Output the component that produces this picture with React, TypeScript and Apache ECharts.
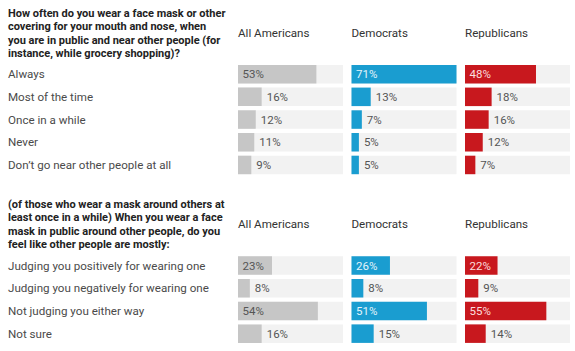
import React, { useEffect, useRef } from "react";
import * as echarts from "echarts";

const question1 =
  "How often do you wear a face mask or other\ncovering for your mouth and nose, when\nyou are in public and near other people (for\ninstance, while grocery shopping)?";
const question2 =
  "(of those who wear a mask around others at\nleast once in a while) When you wear a face\nmask in public around other people, do you\nfeel like other people are mostly:";

const groups = ["All Americans", "Democrats", "Republicans"];
const groupColors = ["#c6c6c6", "#1a9dd0", "#c8181e"];
const insideLabelColors = ["#555555", "#e4f4fb", "#fbdede"];

const categories1 = [
  "Always",
  "Most of the time",
  "Once in a while",
  "Never",
  "Don\u2019t go near other people at all",
];
const all1 = [53, 16, 12, 11, 9];
const dem1 = [71, 13, 7, 5, 5];
const rep1 = [48, 18, 16, 12, 7];

const categories2 = [
  "Judging you positively for wearing one",
  "Judging you negatively for wearing one",
  "Not judging you either way",
  "Not sure",
];
const all2 = [23, 8, 54, 16];
const dem2 = [26, 8, 51, 15];
const rep2 = [22, 9, 55, 14];

const FONT = "Roboto, 'Noto Sans', sans-serif";

export default function App() {
  const ref = useRef<HTMLDivElement>(null);
  useEffect(() => {
    if (!ref.current) return;
    const chart = echarts.init(ref.current, undefined, { renderer: "svg" });

    const sections = [
      { cats: categories1, vals: [all1, dem1, rep1], top: 62.8, pitch: 22.7 },
      { cats: categories2, vals: [all2, dem2, rep2], top: 254.2, pitch: 22.7 },
    ];
    const colLefts = [238, 351.5, 465];
    const colWidth = 105;
    const maxVal = 71;

    const grid: any[] = [];
    const xAxis: any[] = [];
    const yAxis: any[] = [];
    const series: any[] = [];

    sections.forEach((sec, s) => {
      groups.forEach((g, c) => {
        const idx = grid.length;
        grid.push({
          left: colLefts[c],
          top: sec.top,
          width: colWidth,
          height: sec.pitch * sec.cats.length,
          containLabel: false,
        });
        xAxis.push({
          type: "value",
          gridIndex: idx,
          min: 0,
          max: maxVal,
          show: false,
        });
        yAxis.push({
          type: "category",
          gridIndex: idx,
          inverse: true,
          data: sec.cats,
          axisLine: { show: false },
          axisTick: { show: false },
          splitLine: { show: false },
          axisLabel: {
            show: c === 0,
            align: "left",
            margin: colLefts[0] - 8,
            color: "#4a4a4a",
            fontSize: 11.6,
            fontFamily: FONT,
          },
        });
        series.push({
          type: "bar",
          xAxisIndex: idx,
          yAxisIndex: idx,
          barWidth: 18.5,
          showBackground: true,
          backgroundStyle: { color: "#f2f2f2" },
          itemStyle: { color: groupColors[c] },
          data: sec.vals[c].map((v) => ({
            value: v,
            label:
              v >= 20
                ? {
                    show: true,
                    position: "insideLeft",
                    distance: 4.5,
                    color: insideLabelColors[c],
                    fontSize: 11.5,
                    fontFamily: FONT,
                    formatter: "{c}%",
                  }
                : {
                    show: true,
                    position: "right",
                    distance: 5,
                    color: "#555555",
                    fontSize: 11.5,
                    fontFamily: FONT,
                    formatter: "{c}%",
                  },
          })),
        });
      });
    });

    const titleStyle = {
      fontSize: 11,
      fontWeight: "bold",
      color: "#222222",
      lineHeight: 13.2,
      fontFamily: FONT,
    };
    const titles: any[] = [
      { text: question1, left: 8, top: 7, padding: 0, textStyle: titleStyle },
      { text: question2, left: 8, top: 198, padding: 0, textStyle: titleStyle },
    ];
    [27, 218].forEach((t) => {
      groups.forEach((g, c) => {
        titles.push({
          text: g,
          left: colLefts[c],
          top: t,
          padding: 0,
          textStyle: {
            fontSize: 11.6,
            fontWeight: "normal",
            color: "#333333",
            fontFamily: FONT,
          },
        });
      });
    });

    chart.setOption({
      animation: false,
      backgroundColor: "#ffffff",
      title: titles,
      grid,
      xAxis,
      yAxis,
      series,
    });
    return () => chart.dispose();
  }, []);
  return (
    <div
      ref={ref}
      style={{ position: "fixed", left: 0, top: 0, width: 575, height: 351 }}
    />
  );
}
